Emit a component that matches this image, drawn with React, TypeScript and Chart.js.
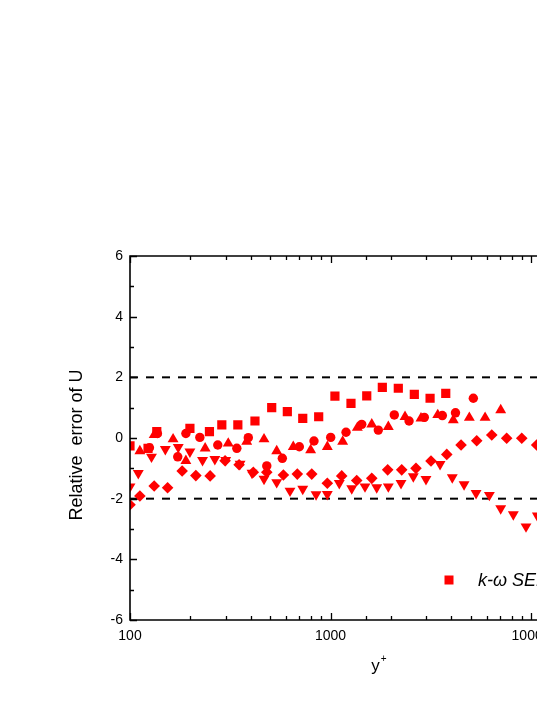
import React, { useEffect, useRef } from "react";
import { Chart, registerables } from "chart.js";

Chart.register(...registerables);

// ---- data ----
const squareX = [100, 123, 136, 199, 249, 287, 345, 420, 509, 609, 727, 873, 1052, 1265, 1516, 1813, 2178, 2618, 3137, 3756];
const squareY = [-0.26, -0.34, 0.21, 0.32, 0.21, 0.43, 0.43, 0.56, 1.0, 0.87, 0.65, 0.7, 1.38, 1.14, 1.39, 1.67, 1.64, 1.44, 1.31, 1.47];

const circleX = [125, 137, 173, 190, 223, 274, 341, 389, 481, 575, 699, 827, 1002, 1195, 1431, 1731, 2080, 2464, 2936, 3611, 4200, 5155];
const circleY = [-0.32, 0.15, -0.62, 0.15, 0.02, -0.23, -0.34, 0.01, -0.92, -0.67, -0.29, -0.1, 0.02, 0.19, 0.45, 0.26, 0.76, 0.56, 0.68, 0.74, 0.83, 1.31];

const triUpX = [112, 132, 164, 190, 237, 309, 382, 466, 539, 652, 796, 964, 1150, 1361, 1606, 1942, 2353, 2826, 3426, 4095, 4924, 5900, 7060];
const triUpY = [-0.43, 0.1, -0.04, -0.75, -0.34, -0.18, -0.12, -0.04, -0.43, -0.29, -0.4, -0.29, -0.12, 0.34, 0.45, 0.37, 0.7, 0.65, 0.76, 0.59, 0.67, 0.67, 0.92];

const triDownX = [100, 110, 128, 150, 174, 199, 230, 265, 300, 354, 406, 466, 539, 628, 727, 847, 964, 1106, 1276, 1486, 1700, 1942, 2247, 2588, 2993, 3518, 4048, 4635, 5320, 6197, 7060, 8160, 9440, 10750];
const triDownY = [-1.6, -1.16, -0.62, -0.37, -0.3, -0.45, -0.73, -0.7, -0.73, -0.85, -1.15, -1.35, -1.46, -1.74, -1.68, -1.86, -1.85, -1.49, -1.66, -1.6, -1.63, -1.6, -1.49, -1.27, -1.36, -0.86, -1.3, -1.53, -1.82, -1.88, -2.32, -2.52, -2.92, -2.56];

const diamondX = [100, 112, 132, 154, 182, 213, 251, 298, 350, 412, 481, 582, 683, 806, 964, 1137, 1351, 1606, 1928, 2265, 2668, 3170, 3800, 4477, 5360, 6370, 7560, 8990, 10670];
const diamondY = [-2.2, -1.91, -1.58, -1.64, -1.09, -1.24, -1.25, -0.75, -0.88, -1.13, -1.13, -1.22, -1.19, -1.19, -1.49, -1.25, -1.4, -1.33, -1.05, -1.05, -1.0, -0.76, -0.54, -0.23, -0.09, 0.1, -0.01, -0.01, -0.23];

const refLineValues = [2, -2];
const xRange = [100, 30000];
const yRange = [-6, 6];
const yMajorStep = 2;
const xLabelValues = [100, 1000, 10000];

const legendLabel = "k-ω SEL";
const yTitle = "Relative  error of U";
const xTitle = "y";
const xTitleSup = "+";

const RED = "rgb(255,0,0)";
const FONT = "'Liberation Sans', Arial, sans-serif";

const toPoints = (xs: number[], ys: number[]) => xs.map((x, i) => ({ x, y: ys[i] }));

const framePlugin = {
  id: "frame",
  afterDraw(chart: any) {
    const { ctx, chartArea: a, scales } = chart;
    const xs = scales.x;
    const ys = scales.y;
    ctx.save();
    ctx.strokeStyle = "#000";
    ctx.lineWidth = 1.6;
    ctx.beginPath();
    ctx.rect(a.left, a.top, a.right - a.left, a.bottom - a.top);
    ctx.stroke();
    ctx.lineWidth = 1.3;
    ctx.beginPath();
    for (let v = yRange[0]; v <= yRange[1]; v += yMajorStep / 2) {
      const py = Math.round(ys.getPixelForValue(v)) + 0.5;
      const len = Math.abs(v % yMajorStep) < 1e-9 ? 7 : 4;
      ctx.moveTo(a.left, py);
      ctx.lineTo(a.left + len, py);
      ctx.moveTo(a.right, py);
      ctx.lineTo(a.right - len, py);
    }
    xs.ticks.forEach((t: any) => {
      const lg = Math.log10(t.value);
      const major = Math.abs(lg - Math.round(lg)) < 1e-6;
      const len = major ? 7 : 4;
      const px = Math.round(xs.getPixelForValue(t.value)) + 0.5;
      ctx.moveTo(px, a.bottom);
      ctx.lineTo(px, a.bottom - len);
      ctx.moveTo(px, a.top);
      ctx.lineTo(px, a.top + len);
    });
    ctx.stroke();

    // axis titles
    ctx.fillStyle = "#000";
    ctx.font = `18px ${FONT}`;
    ctx.textAlign = "center";
    ctx.textBaseline = "middle";
    ctx.save();
    ctx.translate(a.left - 53, (a.top + a.bottom) / 2 + 7);
    ctx.rotate(-Math.PI / 2);
    ctx.fillText(yTitle, 0, 0);
    ctx.restore();

    const cx = (a.left + a.right) / 2;
    ctx.textBaseline = "alphabetic";
    ctx.textAlign = "left";
    ctx.font = `17px ${FONT}`;
    const wy = ctx.measureText(xTitle).width;
    ctx.font = `10px ${FONT}`;
    const wp = ctx.measureText(xTitleSup).width;
    const start = cx - (wy + wp) / 2;
    ctx.font = `17px ${FONT}`;
    ctx.fillText(xTitle, start, a.bottom + 51);
    ctx.font = `10px ${FONT}`;
    ctx.fillText(xTitleSup, start + wy + 1, a.bottom + 42);

    // legend (first dataset)
    const lx = a.left + 319;
    const ly = a.top + 324;
    ctx.fillStyle = RED;
    ctx.fillRect(lx - 4.5, ly - 4.5, 9, 9);
    ctx.fillStyle = "#000";
    ctx.font = `italic 18px ${FONT}`;
    ctx.textBaseline = "middle";
    ctx.fillText(legendLabel, lx + 29, ly + 1);
    ctx.restore();
  },
};

export default function App() {
  const ref = useRef<HTMLCanvasElement | null>(null);

  useEffect(() => {
    if (!ref.current) return;
    const markerBase = { showLine: false, borderWidth: 0, backgroundColor: RED, borderColor: RED };
    const chart = new Chart(ref.current, {
      type: "scatter",
      data: {
        datasets: [
          { ...markerBase, label: legendLabel, data: toPoints(squareX, squareY), pointStyle: "rect", pointRadius: 6.5 },
          { ...markerBase, label: "circle", data: toPoints(circleX, circleY), pointStyle: "circle", pointRadius: 4.7 },
          { ...markerBase, label: "up", data: toPoints(triUpX, triUpY), pointStyle: "triangle", pointRadius: 6.3 },
          { ...markerBase, label: "down", data: toPoints(triDownX, triDownY), pointStyle: "triangle", rotation: 180, pointRadius: 6.3 },
          { ...markerBase, label: "diamond", data: toPoints(diamondX, diamondY), pointStyle: "rectRot", pointRadius: 5.8 },
          ...refLineValues.map((v) => ({
            label: "ref" + v,
            data: [
              { x: xRange[0], y: v },
              { x: xRange[1], y: v },
            ],
            showLine: true,
            borderColor: "#000",
            borderWidth: 2,
            borderDash: [8, 8],
            pointRadius: 0,
          })),
        ],
      },
      options: {
        responsive: false,
        animation: false,
        layout: { padding: { top: 248, right: 141.3, bottom: 0, left: 0 } },
        plugins: { legend: { display: false }, tooltip: { enabled: false } },
        scales: {
          x: {
            type: "logarithmic",
            min: xRange[0],
            max: xRange[1],
            grid: { display: false, drawTicks: false },
            border: { display: false },
            ticks: {
              color: "#000",
              font: { family: FONT, size: 14 },
              padding: 8,
              maxRotation: 0,
              autoSkip: false,
              callback: (v: any) => (xLabelValues.includes(Number(v)) ? String(v) : ""),
            },
            afterFit: (s: any) => {
              s.height = 77;
            },
          },
          y: {
            min: yRange[0],
            max: yRange[1],
            grid: { display: false, drawTicks: false },
            border: { display: false },
            ticks: {
              stepSize: yMajorStep,
              color: "#000",
              font: { family: FONT, size: 14 },
              padding: 7,
            },
            afterFit: (s: any) => {
              s.width = 122;
            },
          },
        },
      },
      plugins: [framePlugin],
    });
    return () => chart.destroy();
  }, []);

  return (
    <div style={{ width: 537, height: 689, overflow: "hidden", background: "#fff" }}>
      <canvas ref={ref} width={760} height={689} style={{ display: "block" }} />
    </div>
  );
}
